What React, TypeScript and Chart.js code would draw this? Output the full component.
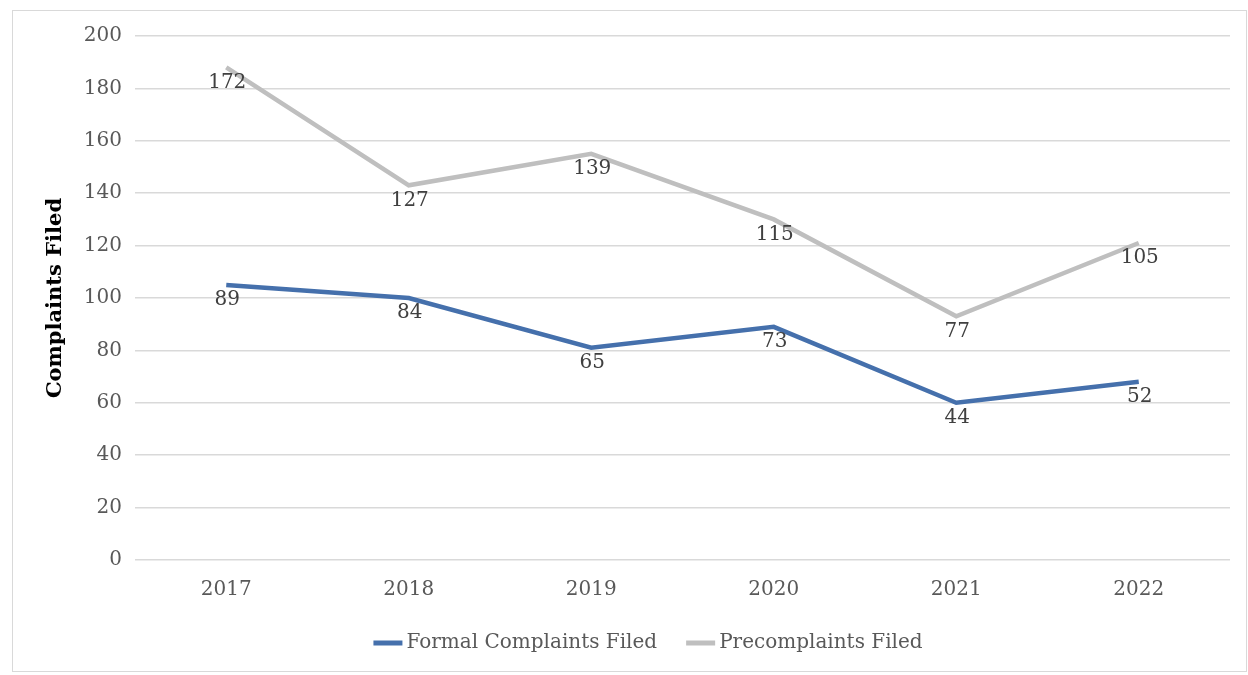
import React, { useEffect, useRef } from "react";
import { Chart, registerables } from "chart.js";

Chart.register(...registerables);

const years = ["2017", "2018", "2019", "2020", "2021", "2022"];
const formalValues = [105, 100, 81, 89, 60, 68];
const formalLabels = [89, 84, 65, 73, 44, 52];
const preValues = [188, 143, 155, 130, 93, 121];
const preLabels = [172, 127, 139, 115, 77, 105];
const yTicks = [0, 20, 40, 60, 80, 100, 120, 140, 160, 180, 200];

const FONT = "'DejaVu Serif', serif";

const labelPlugin = {
  id: "pointLabels",
  afterDatasetsDraw(chart: any) {
    const ctx = chart.ctx;
    const sets = [formalLabels, preLabels];
    ctx.save();
    ctx.font = `20px ${FONT}`;
    ctx.fillStyle = "#404040";
    ctx.textAlign = "center";
    ctx.textBaseline = "middle";
    chart.data.datasets.forEach((ds: any, i: number) => {
      const meta = chart.getDatasetMeta(i);
      meta.data.forEach((pt: any, j: number) => {
        ctx.fillText(String(sets[i][j]), pt.x + 1, pt.y + 15);
      });
    });
    ctx.restore();
  },
};

const legendPlugin = {
  id: "customLegend",
  afterDraw(chart: any) {
    const ctx = chart.ctx;
    const boxW = 29;
    const boxH = 5;
    const textGap = 4;
    const itemGap = 29;
    ctx.save();
    ctx.font = `20px ${FONT}`;
    ctx.textBaseline = "middle";
    ctx.textAlign = "left";
    const items = chart.data.datasets.map((ds: any) => ({
      text: ds.label,
      color: ds.borderColor,
      w: ctx.measureText(ds.label).width,
    }));
    const total =
      items.reduce((s: number, it: any) => s + boxW + textGap + it.w, 0) +
      itemGap * (items.length - 1);
    const cx = 635;
    const y = chart.chartArea.bottom + 83;
    let x = cx - total / 2;
    items.forEach((it: any) => {
      ctx.fillStyle = it.color;
      ctx.fillRect(x, y - boxH / 2, boxW, boxH);
      x += boxW + textGap;
      ctx.fillStyle = "#595959";
      ctx.fillText(it.text, x, y);
      x += it.w + itemGap;
    });
    ctx.restore();
  },
};

export default function App() {
  const ref = useRef<HTMLCanvasElement | null>(null);
  useEffect(() => {
    if (!ref.current) return;
    const chart = new Chart(ref.current, {
      type: "line",
      data: {
        labels: years,
        datasets: [
          {
            label: "Formal Complaints Filed",
            data: formalValues,
            borderColor: "#4570AC",
            backgroundColor: "#4570AC",
            borderWidth: 4.5,
            pointRadius: 0,
            tension: 0,
          },
          {
            label: "Precomplaints Filed",
            data: preValues,
            borderColor: "#BFBFBF",
            backgroundColor: "#BFBFBF",
            borderWidth: 4.5,
            pointRadius: 0,
            tension: 0,
          },
        ],
      },
      options: {
        animation: false,
        responsive: false,
        maintainAspectRatio: false,
        layout: { padding: { left: 26, top: 18, right: 16, bottom: 61 } },
        plugins: {
          tooltip: { enabled: false },
          legend: { display: false },
        },
        scales: {
          x: {
            offset: true,
            grid: { display: false, drawTicks: false },
            border: { display: false },
            ticks: { font: { family: FONT, size: 20 }, color: "#595959", padding: 18 },
            afterFit(scale: any) {
              scale.height = 50;
            },
          },
          y: {
            min: 0,
            max: 200,
            afterBuildTicks(scale: any) {
              scale.ticks = yTicks.map((v) => ({ value: v }));
            },
            grid: { color: "#D9D9D9", lineWidth: 1.5, drawTicks: false },
            border: { display: false },
            ticks: { font: { family: FONT, size: 20 }, color: "#595959", padding: 13 },
            title: {
              display: true,
              text: "Complaints Filed",
              font: { family: FONT, size: 21, weight: "bold" },
              color: "#000000",
              padding: { top: 4, bottom: 0 },
            },
            afterFit(scale: any) {
              scale.width = 96;
            },
          },
        },
      },
      plugins: [labelPlugin, legendPlugin],
    });
    return () => chart.destroy();
  }, []);
  return (
    <div
      style={{
        position: "absolute",
        left: 12,
        top: 10,
        width: 1233,
        height: 660,
        border: "1px solid #D9D9D9",
        background: "#fff",
      }}
    >
      <canvas ref={ref} width={1233} height={660} style={{ display: "block" }} />
    </div>
  );
}
